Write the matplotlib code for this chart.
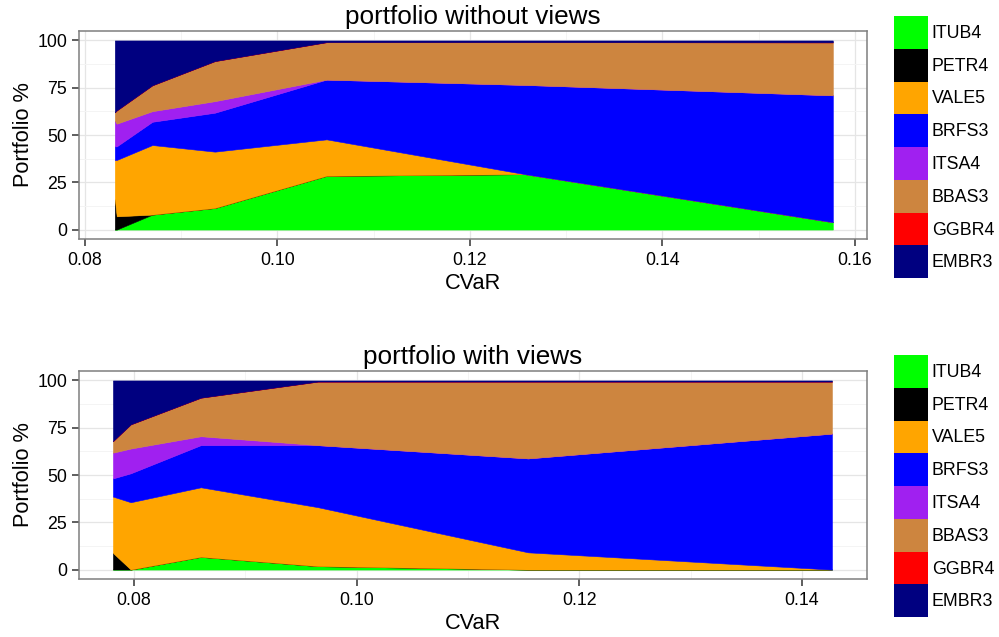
"""
plot.py — stacked area charts of portfolio weights along the CVaR frontier.

Two panels (without / with views), ggplot theme_bw look, saved to out.png.
"""

import matplotlib
matplotlib.use('Agg')
import matplotlib.pyplot as plt
from matplotlib.patches import Patch
from matplotlib.ticker import FixedLocator

# ── Data ───────────────────────────────────────────────────────────────────────
ASSETS = ['ITUB4', 'PETR4', 'VALE5', 'BRFS3', 'ITSA4', 'BBAS3', 'GGBR4', 'EMBR3']
COLORS = ['#00FF00', '#000000', '#FFA500', '#0000FF', '#A020F0', '#CD853F', '#FF0000', '#000080']

# portfolio without views
cvar_nv = [0.0831, 0.0833, 0.0870, 0.0935, 0.1051, 0.1257, 0.1577]
itub4_nv = [0.0, 0.0, 7.9, 11.4, 28.4, 29.3, 3.9]
petr4_nv = [16.0, 7.0, 0.0, 0.0, 0.0, 0.0, 0.0]
vale5_nv = [20.8, 29.8, 36.8, 29.8, 19.3, 0.0, 0.0]
brfs3_nv = [7.2, 7.2, 12.3, 20.6, 31.6, 47.2, 67.1]
itsa4_nv = [13.5, 12.0, 5.6, 6.1, 0.0, 0.0, 0.0]
bbas3_nv = [4.5, 7.0, 13.7, 21.2, 19.8, 22.6, 28.0]
ggbr4_nv = [0.0, 0.0, 0.0, 0.0, 0.0, 0.0, 0.0]
embr3_nv = [38.0, 37.0, 23.7, 10.9, 0.9, 0.9, 1.0]

# portfolio with views
cvar_wv = [0.0781, 0.0797, 0.0860, 0.0965, 0.1154, 0.1427]
itub4_wv = [0.0, 0.0, 6.7, 1.8, 0.0, 0.0]
petr4_wv = [8.8, 0.0, 0.0, 0.0, 0.0, 0.0]
vale5_wv = [29.8, 35.6, 36.8, 31.2, 9.1, 0.0]
brfs3_wv = [9.6, 15.3, 22.3, 32.8, 49.7, 71.9]
itsa4_wv = [13.6, 13.1, 4.7, 0.0, 0.0, 0.0]
bbas3_wv = [6.1, 12.8, 20.4, 33.6, 40.6, 27.5]
ggbr4_wv = [0.0, 0.0, 0.0, 0.0, 0.0, 0.0]
embr3_wv = [32.1, 23.2, 9.1, 0.6, 0.6, 0.6]

Y_TICKS = [0, 25, 50, 75, 100]
Y_MINOR = [12.5, 37.5, 62.5, 87.5]

plt.rcParams['font.family'] = ['Liberation Sans', 'DejaVu Sans']

W, H = 999, 637
TICK_FS = 12.8


def style_axes(ax, xticks, xminor, xlim):
    ax.set_xlim(*xlim)
    ax.set_ylim(-5, 105)
    ax.xaxis.set_major_locator(FixedLocator(xticks))
    ax.xaxis.set_minor_locator(FixedLocator(xminor))
    ax.yaxis.set_major_locator(FixedLocator(Y_TICKS))
    ax.yaxis.set_minor_locator(FixedLocator(Y_MINOR))
    ax.set_xticklabels([f'{t:.2f}' for t in xticks])
    ax.set_yticklabels([str(t) for t in Y_TICKS])
    ax.set_axisbelow(True)
    ax.grid(which='major', color='#E5E5E5', linewidth=0.9)
    ax.grid(which='minor', color='#F4F4F4', linewidth=0.7)
    ax.tick_params(which='major', length=5, width=1.1, color='#333333',
                   labelsize=TICK_FS, labelcolor='black')
    ax.tick_params(axis='x', which='major', pad=4.5)
    ax.tick_params(axis='y', which='major', pad=3.5)
    ax.tick_params(which='minor', length=0)
    for sp in ax.spines.values():
        sp.set_color('#7F7F7F')
        sp.set_linewidth(1.1)
    ax.set_xlabel('CVaR', fontsize=15.7, va='center')
    ax.set_ylabel('Portfolio %', fontsize=15.7, va='center')
    ax.xaxis.set_label_coords(0.5, -0.212)
    ax.yaxis.set_label_coords(-0.070, 0.5)


def draw_panel(ax, x, series, title):
    polys = ax.stackplot(x, *series, colors=COLORS, labels=ASSETS, linewidth=0.4)
    for p in polys:
        p.set_edgecolor(p.get_facecolor())
    ax.set_title(title, fontsize=18.8, pad=5)


def main():
    fig = plt.figure(figsize=(W / 100, H / 100), dpi=100)

    # ── Panel placement (pixels from top-left) ─────────────────────────────
    left, right = 79, 867
    ax_top = fig.add_axes([left / W, 1 - 239 / H, (right - left) / W, 208 / H])
    ax_bot = fig.add_axes([left / W, 1 - 579 / H, (right - left) / W, 208 / H])

    draw_panel(ax_top, cvar_nv,
               [itub4_nv, petr4_nv, vale5_nv, brfs3_nv, itsa4_nv, bbas3_nv, ggbr4_nv, embr3_nv],
               'portfolio without views')
    style_axes(ax_top, [0.08, 0.10, 0.12, 0.14, 0.16], [0.09, 0.11, 0.13, 0.15],
               (0.07938, 0.16125))

    draw_panel(ax_bot, cvar_wv,
               [itub4_wv, petr4_wv, vale5_wv, brfs3_wv, itsa4_wv, bbas3_wv, ggbr4_wv, embr3_wv],
               'portfolio with views')
    style_axes(ax_bot, [0.08, 0.10, 0.12, 0.14], [0.09, 0.11, 0.13],
               (0.07505, 0.14585))

    # ── Legends ────────────────────────────────────────────────────────────
    # matplotlib shrinks the patch by a descent term, so handleheight is
    # picked to give ~33 px tall keys
    handles = [Patch(facecolor=c, edgecolor='none') for c in COLORS]
    for top_px in (16, 355):
        fig.legend(handles, ASSETS, loc='upper left',
                   bbox_to_anchor=(894 / W, 1 - top_px / H),
                   frameon=False, borderpad=0, borderaxespad=0,
                   handlelength=1.92, handleheight=2.46, handletextpad=0.2,
                   labelspacing=0, fontsize=TICK_FS)

    fig.savefig('out.png', dpi=100)
    plt.close(fig)


if __name__ == '__main__':
    main()
